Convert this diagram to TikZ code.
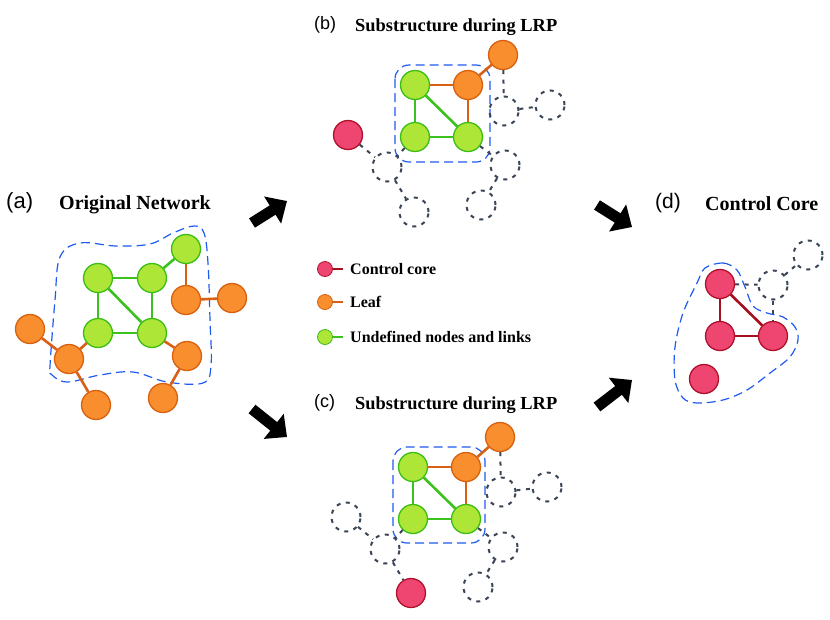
\documentclass[tikz,border=0pt]{standalone}
\usepackage{fontspec}
\setmainfont{Liberation Serif}
\newfontfamily\lblfont{Liberation Sans}
\usetikzlibrary{arrows.meta}
\definecolor{gfill}{HTML}{ADE637}
\definecolor{gborder}{HTML}{3ABE14}
\definecolor{gline}{HTML}{3CC21E}
\definecolor{ofill}{HTML}{F88E2E}
\definecolor{oborder}{HTML}{D9600E}
\definecolor{oline}{HTML}{D95F15}
\definecolor{rfill}{HTML}{EE4670}
\definecolor{rborder}{HTML}{B0102A}
\definecolor{rline}{HTML}{A50F1E}
\definecolor{hullblue}{HTML}{1F5BF0}
\definecolor{dgray}{HTML}{3A4555}
\tikzset{
  basenode/.style={circle, line width=1.3pt, minimum size=29pt, inner sep=0pt},
  gnode/.style={basenode, draw=gborder, fill=gfill},
  onode/.style={basenode, draw=oborder, fill=ofill},
  rnode/.style={basenode, draw=rborder, fill=rfill},
  dnode/.style={basenode, draw=dgray, line width=2pt, dash pattern=on 4pt off 5.5pt},
  gedge/.style={draw=gline, line width=2.6pt},
  oedge/.style={draw=oline, line width=2.6pt},
  redge/.style={draw=rline, line width=2.6pt},
  dedge/.style={draw=dgray, line width=2pt, dash pattern=on 4pt off 5.5pt},
  hull/.style={draw=hullblue, line width=1.2pt, dash pattern=on 9pt off 5pt},
  bigarrow/.style={draw=black, line width=11pt, -{Triangle[length=17pt,width=31pt]}},
  lgnode/.style={circle, line width=0.8pt, minimum size=15pt, inner sep=0pt},
  title/.style={anchor=base west, inner sep=0pt, font=\bfseries},
  plabel/.style={anchor=base west, inner sep=0pt},
}
\begin{document}
\begin{tikzpicture}[x=1pt,y=-1pt]
\useasboundingbox[fill=white] (0,0) rectangle (830,619);

% ---------- texts ----------
\node[plabel, font=\lblfont\fontsize{22}{26}\selectfont] (la) at (6,208.5) {(a)};
\node[title, font=\bfseries\fontsize{20}{24}\selectfont] (ta) at (59,209.5) {Original Network};
\node[plabel, font=\lblfont\fontsize{18}{22}\selectfont] (lb) at (314,29.5) {(b)};
\node[title, font=\bfseries\fontsize{18.4}{22}\selectfont] (tb) at (355,31.5) {Substructure during LRP};
\node[plabel, font=\lblfont\fontsize{18}{22}\selectfont] (lc) at (314,407) {(c)};
\node[title, font=\bfseries\fontsize{18.4}{22}\selectfont] (tc) at (355,409) {Substructure during LRP};
\node[plabel, font=\lblfont\fontsize{21}{25}\selectfont] (ld) at (655,208) {(d)};
\node[title, font=\bfseries\fontsize{20}{24}\selectfont] (td) at (705,210) {Control Core};

% ---------- panel (a) ----------
\draw[hull] plot[smooth cycle, tension=0.6] coordinates {
  (50,366) (55,300) (60,257) (80,243) (116,246) (150,244) (173,233)
  (194,226) (204,233) (208,263) (210,320) (211,366) (203,383) (167,382)
  (133,372) (100,375) (67,382) (51,374)};
\node[gnode] (a1) at (98,278) {};
\node[gnode] (a2) at (152,278) {};
\node[gnode] (a3) at (186,249) {};
\node[gnode] (a4) at (98,333) {};
\node[gnode] (a5) at (152,333) {};
\node[onode] (a6) at (186,300) {};
\node[onode] (a7) at (232,298) {};
\node[onode] (a8) at (30,329) {};
\node[onode] (a9) at (69,359) {};
\node[onode] (a10) at (187,356) {};
\node[onode] (a11) at (96,405) {};
\node[onode] (a12) at (163,398) {};
\draw[gedge] (a1) -- (a2);
\draw[gedge] (a1) -- (a4);
\draw[gedge] (a2) -- (a5);
\draw[gedge] (a4) -- (a5);
\draw[gedge] (a1) -- (a5);
\draw[gedge] (a2) -- (a3);
\draw[oedge] (a3) -- (a6);
\draw[oedge] (a6) -- (a7);
\draw[oedge] (a8) -- (a9);
\draw[oedge] (a9) -- (a4);
\draw[oedge] (a9) -- (a11);
\draw[oedge] (a5) -- (a10);
\draw[oedge] (a10) -- (a12);

% ---------- panel (b) ----------
\draw[hull, rounded corners=14pt] (395,65) rectangle (490,162);
\node[gnode] (b1) at (415,85) {};
\node[onode] (b2) at (468,85) {};
\node[gnode] (b3) at (415,137) {};
\node[gnode] (b4) at (468,137) {};
\node[onode] (b5) at (503,55) {};
\node[rnode] (b6) at (348,135) {};
\node[dnode] (bp1) at (387,167) {};
\node[dnode] (bp2) at (414,212) {};
\node[dnode] (bp3) at (504,111) {};
\node[dnode] (bp4) at (550,105) {};
\node[dnode] (bp5) at (505,165) {};
\node[dnode] (bp6) at (481,205) {};
\draw[oedge] (b1) -- (b2);
\draw[oedge] (b2) -- (b4);
\draw[oedge] (b2) -- (b5);
\draw[gedge] (b1) -- (b3);
\draw[gedge] (b3) -- (b4);
\draw[gedge] (b1) -- (b4);
\draw[dedge] (b6) -- (bp1);
\draw[dedge] (b3) -- (bp1);
\draw[dedge] (bp1) -- (bp2);
\draw[dedge] (b5) -- (bp3);
\draw[dedge] (bp3) -- (bp4);
\draw[dedge] (b4) -- (bp5);
\draw[dedge] (bp5) -- (bp6);

% ---------- panel (c) ----------
\draw[hull, rounded corners=14pt] (393,447) rectangle (485,543);
\node[gnode] (c1) at (413,467) {};
\node[onode] (c2) at (466,467) {};
\node[gnode] (c3) at (413,519) {};
\node[gnode] (c4) at (466,519) {};
\node[onode] (c5) at (500,437) {};
\node[rnode] (c6) at (411,593) {};
\node[dnode] (cp1) at (346,517) {};
\node[dnode] (cp2) at (385,549) {};
\node[dnode] (cp3) at (501,492) {};
\node[dnode] (cp4) at (547,487) {};
\node[dnode] (cp5) at (503,547) {};
\node[dnode] (cp6) at (478,587) {};
\draw[oedge] (c1) -- (c2);
\draw[oedge] (c2) -- (c4);
\draw[oedge] (c2) -- (c5);
\draw[gedge] (c1) -- (c3);
\draw[gedge] (c3) -- (c4);
\draw[gedge] (c1) -- (c4);
\draw[dedge] (cp1) -- (cp2);
\draw[dedge] (c3) -- (cp2);
\draw[dedge] (cp2) -- (c6);
\draw[dedge] (c5) -- (cp3);
\draw[dedge] (cp3) -- (cp4);
\draw[dedge] (c4) -- (cp5);
\draw[dedge] (cp5) -- (cp6);

% ---------- panel (d) ----------
\draw[hull] plot[smooth cycle, tension=0.55] coordinates {
  (705,268) (723,263) (737,270) (745,287) (753,306) (767,313) (783,317)
  (795,327) (798,340) (790,357) (770,373) (747,390) (723,400) (697,403)
  (683,398) (675,380) (675,347) (683,313) (697,283)};
\node[rnode] (d1) at (720,284) {};
\node[rnode] (d2) at (720,336) {};
\node[rnode] (d3) at (773,336) {};
\node[rnode] (d4) at (704,379) {};
\node[dnode] (dp1) at (773,285) {};
\node[dnode] (dp2) at (808,255) {};
\draw[redge] (d1) -- (d2);
\draw[redge] (d2) -- (d3);
\draw[redge] (d1) -- (d3);
\draw[dedge] (d1) -- (dp1);
\draw[dedge] (dp1) -- (dp2);
\draw[dedge] (dp1) -- (d3);

% ---------- legend ----------
\node[lgnode, draw=rborder, fill=rfill] (lg1) at (325,269) {};
\coordinate (lg1e) at (343,269);
\draw[draw=rline, line width=1.3pt] (lg1) -- (lg1e);
\node[plabel, font=\bfseries\fontsize{16}{19}\selectfont] (lt1) at (350,274.5) {Control core};
\node[lgnode, draw=oborder, fill=ofill] (lg2) at (325,302) {};
\coordinate (lg2e) at (343,302);
\draw[draw=oline, line width=1.3pt] (lg2) -- (lg2e);
\node[plabel, font=\bfseries\fontsize{16}{19}\selectfont] (lt2) at (350,307.5) {Leaf};
\node[lgnode, draw=gborder, fill=gfill] (lg3) at (325,337) {};
\coordinate (lg3e) at (343,337);
\draw[draw=gline, line width=1.3pt] (lg3) -- (lg3e);
\node[plabel, font=\bfseries\fontsize{16}{19}\selectfont] (lt3) at (350,342.5) {Undefined nodes and links};

% ---------- block arrows ----------
\coordinate (ar1s) at (252,223);
\coordinate (ar1e) at (287,201);
\coordinate (ar2s) at (252,409);
\coordinate (ar2e) at (287,437);
\coordinate (ar3s) at (597,205);
\coordinate (ar3e) at (632,227);
\coordinate (ar4s) at (597,407);
\coordinate (ar4e) at (632,380);
\draw[bigarrow] (ar1s) -- (ar1e);
\draw[bigarrow] (ar2s) -- (ar2e);
\draw[bigarrow] (ar3s) -- (ar3e);
\draw[bigarrow] (ar4s) -- (ar4e);
\end{tikzpicture}
\end{document}
